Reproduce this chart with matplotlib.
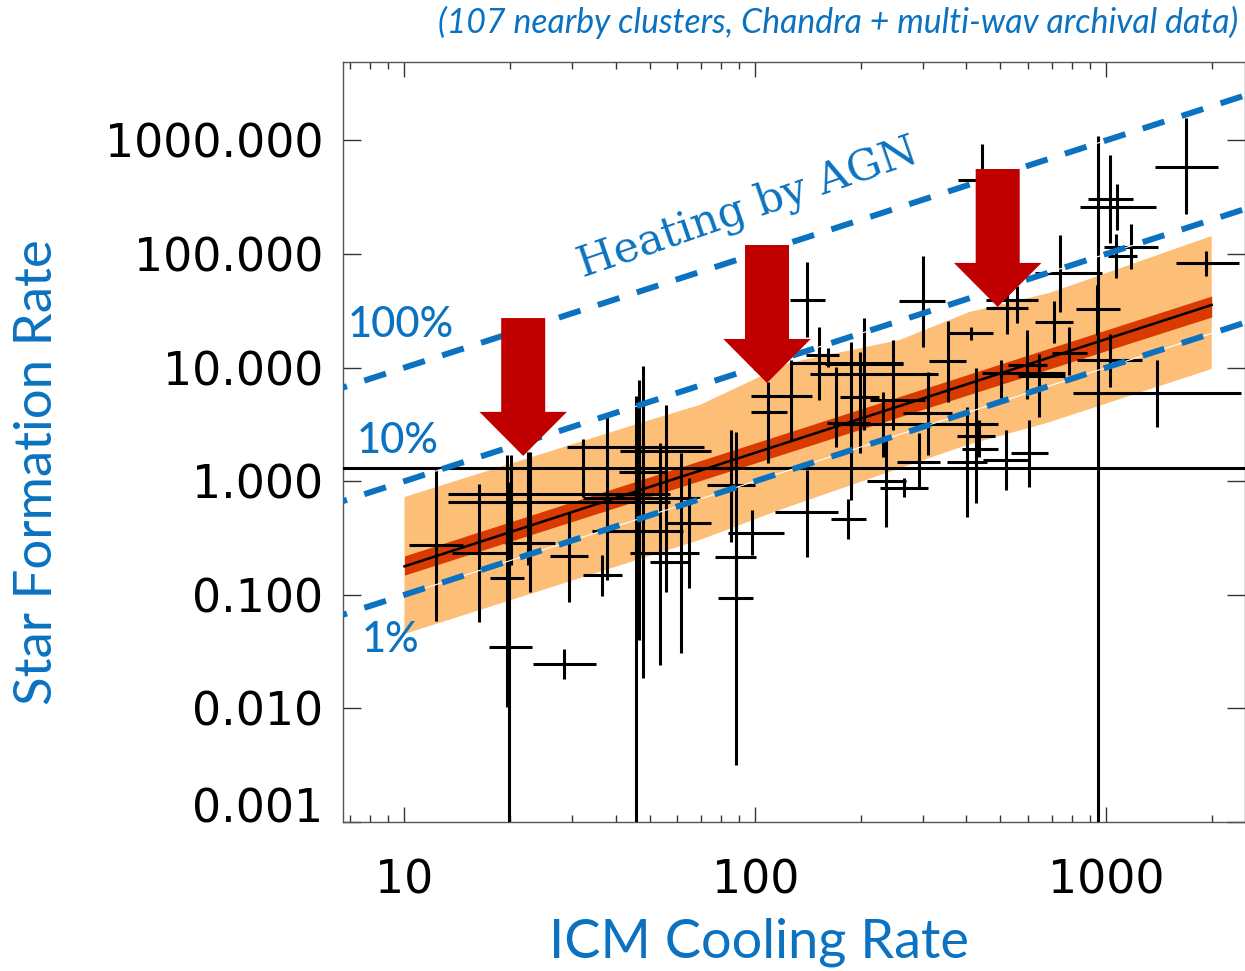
import numpy as np
import matplotlib
matplotlib.use("Agg")
import matplotlib.pyplot as plt
from matplotlib.ticker import NullLocator, LogLocator

BLUE = "#0a72c0"

# ICM cooling rate (x) and star formation rate (y) per cluster, with error-bar ends
cool = [12.3, 16.3, 20.1, 22.8, 22.5, 19.6, 19.9, 29.4, 28.5, 36.5,
        32.3, 37.8, 45.6, 47.8, 46.6, 53.4, 55.6, 61.3, 64.6, 85.1,
        87.9, 87.9, 97.7, 108.5, 126.2, 140.2, 151.7, 169.6, 187.1, 203.8,
        198.6, 246.6, 235.5, 140.2, 183.4, 292.3, 400.6, 424.9, 433.5, 517.3,
        601.4, 160.9, 230.7, 300.0, 411.2, 353.6, 310.1, 500.6, 520.7, 555.9,
        593.5, 642.3, 781.6, 737.1, 708.6, 939.7, 1023, 1393, 1023, 1071,
        1064, 1174, 1933, 1695, 945.8, 442.0, 265.0]
cool_lo = [10.3, 13.7, 13.3, 13.3, 19.3, 17.5, 17.4, 26.0, 23.2, 32.3,
           29.0, 32.3, 41.1, 40.8, 34.2, 43.9, 50.0, 51.7, 56.0, 72.8,
           76.7, 78.2, 83.5, 97.0, 97.0, 125.4, 139.3, 142.9, 157.8, 174.1,
           159.9, 211.9, 207.9, 113.7, 164.1, 253.1, 351.3, 387.4, 375.0, 444.9,
           534.6, 125.4, 166.3, 256.5, 355.9, 311.9, 263.3, 442.0, 453.8, 453.8,
           524.1, 559.5, 699.4, 625.3, 625.3, 818.6, 824.2, 802.7, 840.5, 885.3,
           1010, 984.3, 1585, 1376, 1.0, 377.4, 226.3]
cool_hi = [14.7, 19.5, 57.1, 57.1, 26.8, 21.9, 23.1, 33.3, 35.1, 41.7,
           71.3, 57.1, 74.7, 56.0, 62.1, 69.0, 65.1, 69.5, 74.7, 99.7,
           100.3, 98.4, 120.5, 122.9, 144.9, 157.8, 172.9, 331.0, 263.3, 224.9,
           211.9, 304.0, 268.5, 171.8, 206.5, 335.5, 456.7, 490.9, 481.4, 597.5,
           681.4, 263.3, 490.9, 346.7, 475.1, 398.0, 363.0, 761.8, 597.5, 638.3,
           676.9, 761.8, 879.9, 970.9, 802.7, 1093, 1262, 2432, 1384, 1190,
           1229, 1402, 2399, 2078, 1.0e4, 514.0, 310.1]
sfr = [0.274, 0.233, 0.771, 0.656, 0.286, 0.141, 0.0347, 0.220, 0.0246, 0.149,
       2.00, 0.711, 1.84, 1.21, 0.364, 0.233, 0.194, 0.711, 0.429, 0.926,
       0.215, 0.0937, 0.350, 4.06, 5.62, 39.4, 12.9, 8.78, 10.8, 5.51,
       3.25, 5.19, 1.00, 0.535, 0.465, 1.48, 1.48, 1.92, 2.50, 1.54,
       1.77, 11.0, 3.19, 38.6, 20.2, 11.4, 3.98, 8.96, 33.5, 39.4,
       10.5, 8.43, 13.4, 68.0, 25.2, 32.8, 11.7, 5.97, 259, 305,
       96.0, 115, 83.4, 583, 1.31, 448, 0.871]
sfr_lo = [0.059, 0.058, 0.183, 0.106, 0.183, 0.0103, 1e-4, 0.0864, 0.0182, 0.0976,
          0.726, 0.135, 1e-4, 0.0186, 0.040, 0.0241, 0.106, 0.0308, 0.115, 0.292,
          0.090, 0.00318, 0.224, 1.45, 2.30, 18.6, 5.19, 2.00, 0.683, 2.82,
          1.77, 2.82, 0.395, 0.215, 0.310, 0.871, 0.484, 0.643, 1.63, 0.836,
          0.889, 10.1, 1.63, 15.2, 17.5, 4.98, 1.70, 5.40, 19.8, 24.7,
          5.29, 3.67, 8.61, 30.9, 16.5, 19.4, 6.75, 3.00, 125, 163,
          61.5, 73.8, 64.0, 225, 1e-4, 216, 0.726]
sfr_hi = [1.28, 0.945, 1.70, 1.81, 1.81, 1.70, 0.984, 0.535, 0.0333, 0.224,
          2.35, 3.67, 5.62, 10.3, 7.78, 2.17, 4.69, 1.77, 1.07, 2.82,
          2.71, 0.456, 0.557, 7.47, 11.7, 85.0, 22.8, 10.1, 16.8, 27.3,
          13.7, 17.5, 2.30, 1.25, 0.697, 2.66, 4.50, 9.92, 3.46, 2.82,
          3.46, 14.9, 6.10, 96.0, 22.8, 25.7, 9.15, 11.7, 49.2, 52.3,
          21.4, 13.2, 22.8, 147, 38.6, 53.3, 19.8, 11.7, 743, 413,
          150, 184, 106, 1574, 1094, 929, 1.07]

# best fit with its uncertainty, and the scatter envelope
fit_x = [10, 2000]
fit_y = [0.178, 35.6]
fit_lo = [0.149, 27.9]
fit_hi = [0.220, 42.7]
band_up_x = [10, 46.9, 69.5, 125, 258, 408, 690, 2000]
band_up = [0.726, 3.25, 4.69, 11.0, 17.5, 30.9, 45.4, 144]
band_dn_x = [10, 69.5, 117, 401, 677, 2000]
band_dn = [0.0452, 0.304, 0.557, 2.08, 3.25, 9.72]

# SFR = efficiency * cooling rate
eff = [1.0, 0.1, 0.01]
eff_labels = ["100%", "10%", "1%"]
eff_label_x = [6.9, 7.32, 7.57]
eff_label_y = [23.7, 2.26, 0.040]

# "heating by AGN" arrows: x, top, tip
arrow_x = [21.8, 108, 491]
arrow_top = [27.3, 120, 560]
arrow_tip = [1.67, 7.32, 34.2]

yticks = [0.001, 0.01, 0.1, 1, 10, 100, 1000]
xticks = [10, 100, 1000]

fig = plt.figure(figsize=(12.45, 9.71), dpi=100)
ax = fig.add_axes([343 / 1245, 1 - 822 / 971, 902 / 1245, 760 / 971])
ax.set_xscale("log")
ax.set_yscale("log")
ax.set_xlim(6.68, 2489)
ax.set_ylim(0.001, 4900)

ax.fill(np.r_[band_up_x, band_dn_x[::-1]], np.r_[band_up, band_dn[::-1]],
        color="#fdbf78", lw=0, zorder=1)
ax.fill_between(fit_x, fit_lo, fit_hi, color="#d93a00", lw=0, zorder=2)
ax.plot(fit_x, fit_y, color="black", lw=1.8, zorder=3)

cool = np.array(cool)
sfr = np.array(sfr)
xerr = [cool - np.array(cool_lo), np.array(cool_hi) - cool]
yerr = [sfr - np.array(sfr_lo), np.array(sfr_hi) - sfr]
ax.errorbar(cool, sfr, xerr=xerr, yerr=yerr, fmt="none", ecolor="black",
            elinewidth=2.2, capsize=0, zorder=4)

xl = np.array(ax.get_xlim())
for f in eff:
    ax.plot(xl, f * xl, color="white", lw=0.8, zorder=5)
    ax.plot(xl, f * xl, color=BLUE, lw=4.3, linestyle=(3.1, (3.8, 3.05)),
            zorder=6, solid_capstyle="butt", dash_capstyle="butt")

for lab, lx, ly in zip(eff_labels, eff_label_x, eff_label_y):
    ax.text(lx, ly, lab, color=BLUE, fontsize=30, family="Lato",
            weight="medium", ha="left", va="center", zorder=8)

ax.text(95, 254, "Heating by AGN", color=BLUE, fontsize=31,
        family="DejaVu Serif", rotation=19, ha="center", va="center",
        rotation_mode="anchor", zorder=8)

for x, yt, yb in zip(arrow_x, arrow_top, arrow_tip):
    ax.annotate("", xy=(x, yb), xytext=(x, yt),
                arrowprops=dict(arrowstyle="simple,head_length=31.7,head_width=63,tail_width=31.7",
                                mutation_scale=1, color="#c00000", lw=0,
                                shrinkA=0, shrinkB=0),
                zorder=7)

ax.set_yticks(yticks, labels=[f"{t:.3f}" for t in yticks])
ax.set_xticks(xticks, labels=[str(t) for t in xticks])
ax.xaxis.set_minor_locator(LogLocator(base=10, subs=np.arange(2, 10)))
ax.yaxis.set_minor_locator(NullLocator())
ax.get_yticklabels()[0].set_verticalalignment("baseline")
for lab in ax.get_xticklabels() + ax.get_yticklabels():
    lab.set_family("DejaVu Sans")
    lab.set_fontsize(33)

ax.tick_params(axis="both", which="both", direction="in", top=True, right=True,
               color="#333333")
ax.tick_params(axis="x", which="major", length=11, width=1, pad=26)
ax.tick_params(axis="x", which="minor", length=5, width=1)
ax.tick_params(axis="y", which="major", length=13, width=1, pad=14)
for s in ax.spines.values():
    s.set_color("#555555")
    s.set_linewidth(1.0)

fig.text(38 / 1245, 1 - 472 / 971, "Star Formation Rate", rotation=90,
         color=BLUE, fontsize=38, family="Lato", ha="center", va="center")
fig.text(759 / 1245, 1 - 942 / 971, "ICM Cooling Rate", color=BLUE,
         fontsize=39, family="Lato", ha="center", va="center")
fig.text(1238 / 1245, 1 - 22 / 971,
         "(107 nearby clusters, Chandra + multi-wav archival data)",
         color=BLUE, fontsize=24.3, family="Lato", style="italic",
         ha="right", va="center")

fig.savefig("out.png", dpi=100)
